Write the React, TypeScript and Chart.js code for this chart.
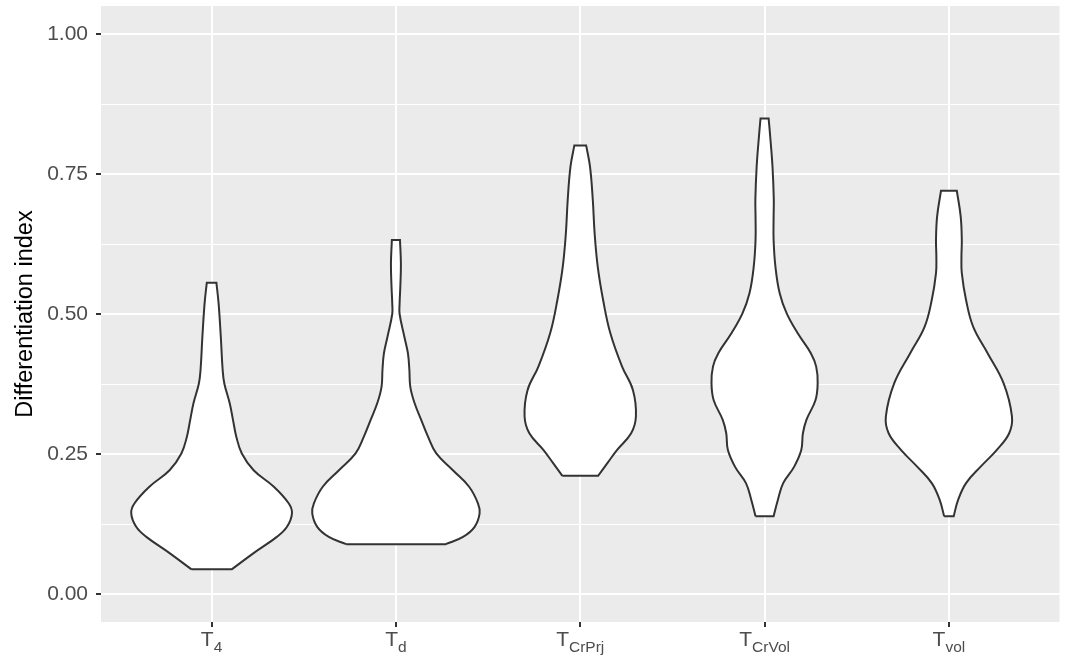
import React, { useEffect, useRef } from "react";
import { Chart, registerables } from "chart.js";

Chart.register(...registerables);

// Categories (x axis): main letter + subscript
const categories = ["T4", "Td", "TCrPrj", "TCrVol", "Tvol"];
const labelMain = ["T", "T", "T", "T", "T"];
const labelSub = ["4", "d", "CrPrj", "CrVol", "vol"];

// Y axis ticks
const yMajorTicks = [0, 0.25, 0.5, 0.75, 1.0];
const yTickLabels = ["0.00", "0.25", "0.50", "0.75", "1.00"];
const yMinorTicks = [0.125, 0.375, 0.625, 0.875];

// Violin outlines: differentiation index values (ascending) and half-widths (category units)
const t4Y = [0.044, 0.073, 0.102, 0.12, 0.144, 0.162, 0.192, 0.221, 0.251, 0.281, 0.311, 0.341, 0.376, 0.4, 0.459, 0.519, 0.556];
const t4W = [0.109, 0.228, 0.354, 0.409, 0.436, 0.418, 0.336, 0.228, 0.164, 0.134, 0.116, 0.098, 0.069, 0.06, 0.05, 0.038, 0.026];

const tdY = [0.089, 0.102, 0.12, 0.144, 0.162, 0.192, 0.221, 0.251, 0.281, 0.311, 0.341, 0.37, 0.4, 0.43, 0.459, 0.5, 0.519, 0.55, 0.59, 0.632];
const tdW = [0.27, 0.364, 0.427, 0.454, 0.445, 0.396, 0.309, 0.219, 0.174, 0.137, 0.101, 0.078, 0.073, 0.065, 0.046, 0.02, 0.02, 0.024, 0.027, 0.022];

const crPrjY = [0.211, 0.235, 0.257, 0.287, 0.317, 0.364, 0.406, 0.466, 0.525, 0.584, 0.644, 0.704, 0.763, 0.801];
const crPrjW = [0.097, 0.15, 0.199, 0.276, 0.302, 0.286, 0.227, 0.163, 0.124, 0.095, 0.078, 0.068, 0.053, 0.032];

const crVolY = [0.139, 0.168, 0.198, 0.227, 0.257, 0.287, 0.311, 0.346, 0.376, 0.406, 0.43, 0.466, 0.501, 0.537, 0.584, 0.632, 0.674, 0.704, 0.763, 0.823, 0.849];
const crVolW = [0.049, 0.072, 0.101, 0.16, 0.199, 0.208, 0.227, 0.276, 0.288, 0.28, 0.251, 0.179, 0.12, 0.082, 0.059, 0.049, 0.049, 0.05, 0.043, 0.029, 0.022];

const tvolY = [0.139, 0.168, 0.198, 0.227, 0.257, 0.287, 0.317, 0.376, 0.43, 0.477, 0.525, 0.573, 0.602, 0.632, 0.674, 0.72];
const tvolW = [0.026, 0.05, 0.093, 0.171, 0.259, 0.327, 0.342, 0.297, 0.21, 0.132, 0.093, 0.07, 0.068, 0.07, 0.064, 0.043];

const violinY = [t4Y, tdY, crPrjY, crVolY, tvolY];
const violinW = [t4W, tdW, crPrjW, crVolW, tvolW];

const FONT = "'Liberation Sans', Arial, Helvetica, sans-serif";

// Closed outline; end rows are repeated so that the flat caps keep sharp corners under spline smoothing
function outline(pos: number, ys: number[], ws: number[]) {
  const n = ys.length;
  const pts: { x: number; y: number }[] = [];
  for (let i = 0; i < n; i++) {
    pts.push({ x: pos - ws[i], y: ys[i] });
    if (i === n - 1) pts.push({ x: pos - ws[i], y: ys[i] });
  }
  for (let i = n - 1; i >= 0; i--) {
    pts.push({ x: pos + ws[i], y: ys[i] });
    if (i === n - 1 || i === 0) pts.push({ x: pos + ws[i], y: ys[i] });
  }
  pts.push({ x: pos - ws[0], y: ys[0] });
  return pts;
}

const panelBg = {
  id: "panelBg",
  beforeDraw(chart: any) {
    const { ctx, chartArea } = chart;
    ctx.save();
    ctx.fillStyle = "#EBEBEB";
    ctx.fillRect(chartArea.left, chartArea.top, chartArea.right - chartArea.left, chartArea.bottom - chartArea.top);
    ctx.restore();
  },
};

const subLabels = {
  id: "subLabels",
  afterDraw(chart: any) {
    const { ctx } = chart;
    const xs = chart.scales.x;
    ctx.save();
    ctx.fillStyle = "#4D4D4D";
    ctx.textBaseline = "alphabetic";
    ctx.textAlign = "left";
    const mainFont = `21px ${FONT}`;
    const subFont = `15.5px ${FONT}`;
    for (let i = 0; i < categories.length; i++) {
      const px = xs.getPixelForValue(i + 1);
      ctx.font = mainFont;
      const wm = ctx.measureText(labelMain[i]).width;
      ctx.font = subFont;
      const wsub = ctx.measureText(labelSub[i]).width;
      const start = px - (wm + wsub) / 2;
      ctx.font = mainFont;
      ctx.fillText(labelMain[i], start, 646);
      ctx.font = subFont;
      ctx.fillText(labelSub[i], start + wm, 652);
    }
    ctx.restore();
  },
};

export default function App() {
  const ref = useRef<HTMLCanvasElement | null>(null);

  useEffect(() => {
    if (!ref.current) return;
    const datasets = categories.map((c, i) => ({
      label: c,
      data: outline(i + 1, violinY[i], violinW[i]),
      borderColor: "#333333",
      backgroundColor: "#FFFFFF",
      borderWidth: 2,
      fill: "shape",
      tension: 0.4,
      pointRadius: 0,
    }));
    const isMajor = (v: number) => yMajorTicks.some((m) => Math.abs(m - v) < 1e-6);
    const chart = new Chart(ref.current, {
      type: "line",
      data: { datasets: datasets as any },
      options: {
        responsive: false,
        animation: false,
        layout: { padding: { top: 6, right: 5.5, left: 0, bottom: 0 } },
        plugins: { legend: { display: false }, tooltip: { enabled: false } },
        scales: {
          x: {
            type: "linear",
            min: 0.4,
            max: 5.6,
            afterBuildTicks: (s: any) => {
              s.ticks = categories.map((_, i) => ({ value: i + 1 }));
            },
            afterFit: (s: any) => {
              s.height = 35;
              s.paddingLeft = 0;
              s.paddingRight = 0;
            },
            ticks: { callback: () => "", autoSkip: false, maxRotation: 0 },
            grid: { color: "#FFFFFF", lineWidth: 2, tickColor: "#333333", tickLength: 5, tickWidth: 2 },
            border: { display: false },
          },
          y: {
            type: "linear",
            min: -0.05,
            max: 1.05,
            afterBuildTicks: (s: any) => {
              s.ticks = [...yMajorTicks, ...yMinorTicks].sort((a, b) => a - b).map((v) => ({ value: v }));
            },
            afterFit: (s: any) => {
              s.width = 101;
              s.paddingTop = 0;
              s.paddingBottom = 0;
            },
            ticks: {
              autoSkip: false,
              color: "#4D4D4D",
              font: { size: 21, family: FONT },
              padding: 8,
              callback: (v: any) => {
                const idx = yMajorTicks.findIndex((m) => Math.abs(m - Number(v)) < 1e-6);
                return idx >= 0 ? yTickLabels[idx] : "";
              },
            },
            grid: {
              color: "#FFFFFF",
              lineWidth: (ctx: any) => (isMajor(ctx.tick.value) ? 2 : 1),
              tickColor: (ctx: any) => (isMajor(ctx.tick.value) ? "#333333" : "rgba(0,0,0,0)"),
              tickLength: 5,
              tickWidth: 2,
            },
            border: { display: false },
            title: {
              display: true,
              text: "Differentiation index",
              color: "#000000",
              font: { size: 23.5, family: FONT },
              padding: { top: 11, bottom: 0 },
            },
          },
        },
      },
      plugins: [panelBg, subLabels],
    } as any);
    return () => chart.destroy();
  }, []);

  return (
    <div style={{ position: "absolute", left: 0, top: 0, width: 1065, height: 657, background: "#FFFFFF" }}>
      <canvas ref={ref} width={1065} height={657} style={{ display: "block" }} />
    </div>
  );
}
